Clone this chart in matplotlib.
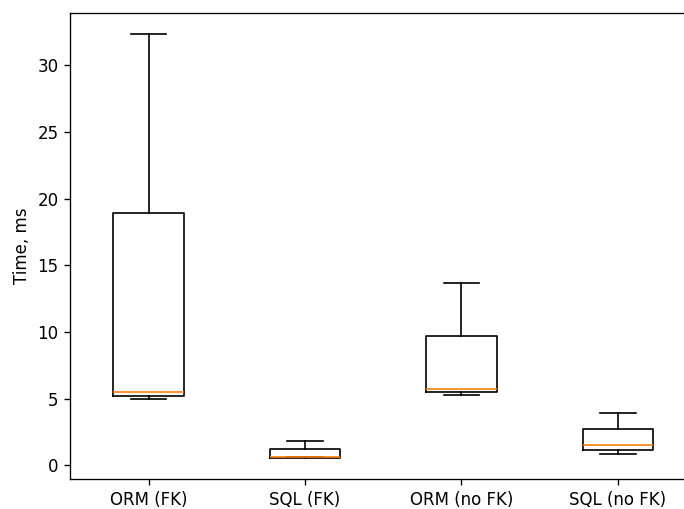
import matplotlib
matplotlib.use("Agg")
import matplotlib.pyplot as plt

labels = ["ORM (FK)", "SQL (FK)", "ORM (no FK)", "SQL (no FK)"]
whislo = [5.0, 0.6, 5.28, 0.87]
q1 = [5.22, 0.57, 5.5, 1.19]
med = [5.47, 0.62, 5.72, 1.57]
q3 = [18.9, 1.27, 9.72, 2.74]
whishi = [32.3, 1.87, 13.66, 3.96]

s = 1.2  # reference looks rendered at a higher dpi
plt.rcParams.update({
    "font.size": 10 * s,
    "axes.linewidth": 0.8 * s,
    "xtick.major.width": 0.8 * s,
    "ytick.major.width": 0.8 * s,
    "xtick.major.size": 3.5 * s,
    "ytick.major.size": 3.5 * s,
    "xtick.major.pad": 3.5 * s,
    "ytick.major.pad": 3.5 * s,
    "axes.labelpad": 4.0 * s,
    "boxplot.boxprops.linewidth": 1.0 * s,
    "boxplot.whiskerprops.linewidth": 1.0 * s,
    "boxplot.capprops.linewidth": 1.0 * s,
    "boxplot.medianprops.linewidth": 1.0 * s,
})

stats = []
for i in range(len(labels)):
    stats.append({"label": labels[i], "whislo": whislo[i], "q1": q1[i],
                  "med": med[i], "q3": q3[i], "whishi": whishi[i], "fliers": []})

fig = plt.figure(figsize=(6.84, 5.09), dpi=100)
ax = fig.add_axes([0.1028, 0.0589, 0.915, 0.915])
ax.bxp(stats, showfliers=False)
ax.set_ylabel("Time, ms")
fig.savefig("out.png")
